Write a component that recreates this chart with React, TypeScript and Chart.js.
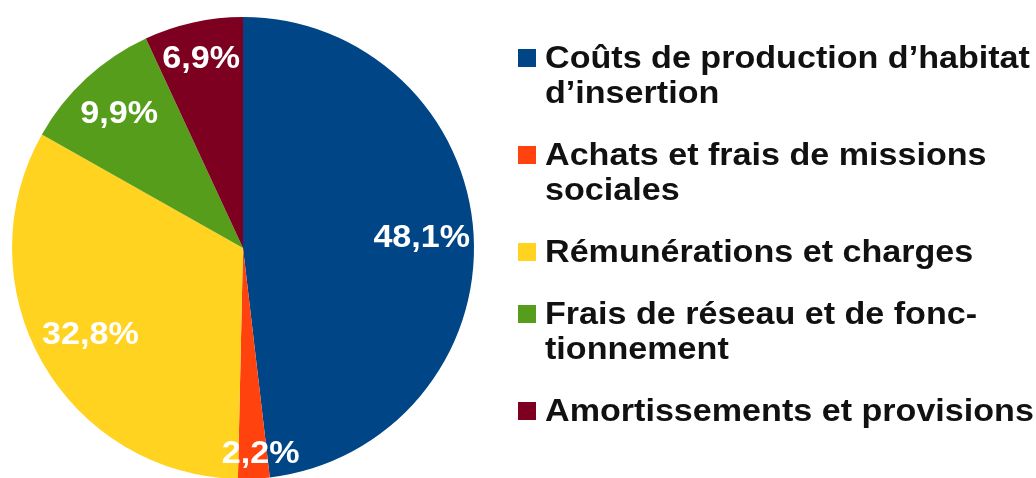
import React, { useEffect, useRef } from "react";
import { Chart, registerables } from "chart.js";

Chart.register(...registerables);

const categories: string[][] = [
  ["Coûts de production d’habitat", "d’insertion"],
  ["Achats et frais de missions", "sociales"],
  ["Rémunérations et charges"],
  ["Frais de réseau et de fonc-", "tionnement"],
  ["Amortissements et provisions"],
];
const shares: number[] = [48.1, 2.2, 32.8, 9.9, 6.9];
const valueLabels: string[] = ["48,1%", "2,2%", "32,8%", "9,9%", "6,9%"];
const colors: string[] = ["#004586", "#ff420e", "#ffd320", "#579d1c", "#7e0021"];

const FONT = 'bold 31px "Liberation Sans", Arial, sans-serif';
const SX = 1.1;

const labelPlugin = {
  id: "sliceLabels",
  afterDatasetsDraw(chart: any) {
    const ctx = chart.ctx as CanvasRenderingContext2D;
    const meta = chart.getDatasetMeta(0);
    const radial = [0.775, 0.89, 0.76, 0.79, 0.84];
    const nudgeX = [0, 8, 0, 0, 0];
    ctx.save();
    ctx.font = FONT;
    ctx.fillStyle = "#ffffff";
    ctx.textAlign = "center";
    ctx.textBaseline = "middle";
    meta.data.forEach((arc: any, i: number) => {
      const p = arc.getProps(["x", "y", "startAngle", "endAngle", "outerRadius"], true);
      const mid = (p.startAngle + p.endAngle) / 2;
      const r = p.outerRadius * radial[i];
      const x = p.x + Math.cos(mid) * r + nudgeX[i];
      const y = p.y + Math.sin(mid) * r;
      ctx.save();
      ctx.translate(x, y);
      ctx.scale(SX, 1);
      ctx.fillText(valueLabels[i], 0, 1);
      ctx.restore();
    });
    ctx.restore();
  },
};

const legendPlugin = {
  id: "sideLegend",
  afterDraw(chart: any) {
    const ctx = chart.ctx as CanvasRenderingContext2D;
    const labels = chart.data.labels as string[][];
    const bg = chart.data.datasets[0].backgroundColor as string[];
    const boxX = 518;
    const boxSize = 18;
    const textX = 545;
    const lineH = 35;
    const gap = 27;
    let baseline = 68;
    ctx.save();
    ctx.font = FONT;
    ctx.textAlign = "left";
    ctx.textBaseline = "alphabetic";
    labels.forEach((lines, i) => {
      ctx.fillStyle = bg[i];
      ctx.fillRect(boxX, baseline - 10 - boxSize / 2, boxSize, boxSize);
      ctx.fillStyle = "#111111";
      lines.forEach((line, j) => {
        ctx.save();
        ctx.translate(textX, baseline + j * lineH);
        ctx.scale(SX, 1);
        ctx.fillText(line, 0, 0);
        ctx.restore();
      });
      baseline += lines.length * lineH + gap;
    });
    ctx.restore();
  },
};

export default function App() {
  const ref = useRef<HTMLCanvasElement>(null);
  useEffect(() => {
    if (!ref.current) return;
    const chart = new Chart(ref.current, {
      type: "pie",
      data: {
        labels: categories as any,
        datasets: [
          {
            data: shares,
            backgroundColor: colors,
            borderWidth: 0,
          },
        ],
      },
      options: {
        responsive: false,
        animation: false,
        devicePixelRatio: 1,
        layout: { padding: { left: 12, top: 17, right: 562, bottom: 11 } },
        plugins: {
          legend: { display: false },
          tooltip: { enabled: false },
        },
      },
      plugins: [labelPlugin, legendPlugin],
    });
    return () => chart.destroy();
  }, []);
  return (
    <div
      style={{
        position: "absolute",
        left: 0,
        top: 0,
        width: 1036,
        height: 478,
        overflow: "hidden",
        background: "#ffffff",
      }}
    >
      <canvas ref={ref} width={1036} height={490} style={{ display: "block" }} />
    </div>
  );
}
